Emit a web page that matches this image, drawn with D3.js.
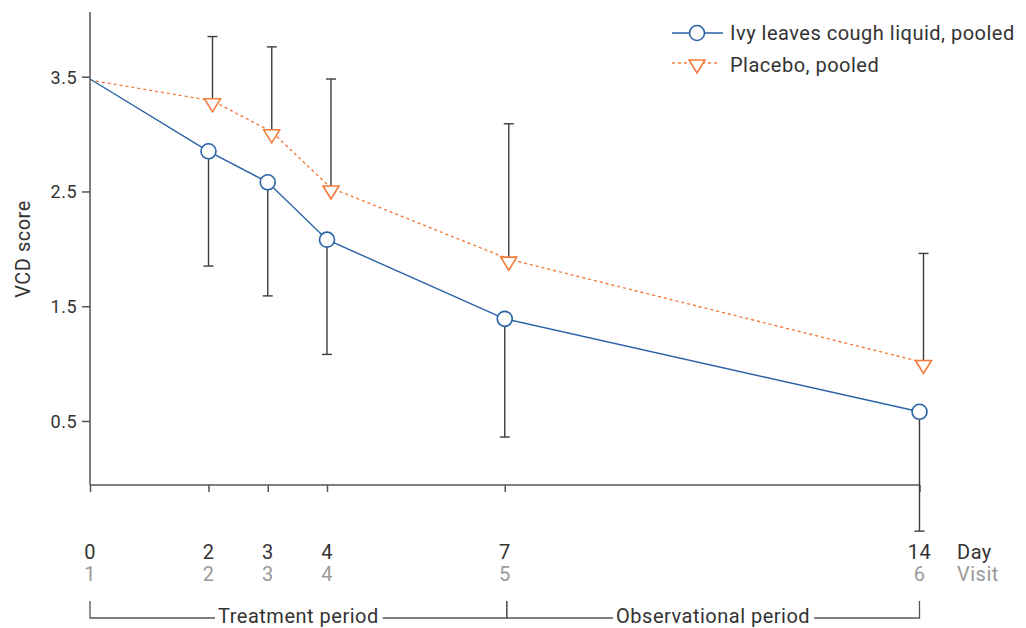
<!DOCTYPE html>
<html>
<head>
<meta charset="utf-8">
<script src="https://cdn.jsdelivr.net/npm/d3@7"></script>
<style>
  body { margin: 0; background: #fff; }
  svg text { font-family: Roboto, "DejaVu Sans", sans-serif; letter-spacing: 0.5px; }
</style>
</head>
<body>
<div id="viz"></div>
<script>
// data
var days = [0, 2, 3, 4, 7, 14];
var visits = [1, 2, 3, 4, 5, 6];
var ivyMean = [3.48, 2.85, 2.58, 2.08, 1.39, 0.58];
var ivyLower = [null, 1.85, 1.59, 1.08, 0.36, -0.46];
var placeboMean = [3.47, 3.29, 3.02, 2.53, 1.91, 1.01];
var placeboUpper = [null, 3.85, 3.76, 3.48, 3.09, 1.96];
var yTicks = [0.5, 1.5, 2.5, 3.5];
var seriesNames = ['Ivy leaves cough liquid, pooled', 'Placebo, pooled'];

var W = 1026, H = 628;
var blue = '#2a62a8', orange = '#f37b3b', axisCol = '#555', textCol = '#333', barCol = '#3c3c3c';
var dodge = 4;

var svg = d3.select('#viz').append('svg')
    .attr('width', W)
    .attr('height', H);

var x = d3.scaleLinear().domain([0, 14]).range([90, 919.5]);
var y = d3.scaleLinear().domain([-0.058, 4.064]).range([485, 12]);

var ivy = days.map(function(d, i) { return {day: d, v: ivyMean[i], lo: ivyLower[i]}; });
var pla = days.map(function(d, i) { return {day: d, v: placeboMean[i], hi: placeboUpper[i]}; });

// y axis
var yAxis = svg.append('g')
    .attr('transform', 'translate(' + x(0) + ',0)')
    .call(d3.axisLeft(y).tickValues(yTicks).tickSize(8).tickFormat(d3.format('.1f')));
yAxis.select('.domain').attr('d', 'M0,' + y.range()[1] + 'V' + y.range()[0]);
yAxis.selectAll('path, line').style('stroke', axisCol).style('stroke-width', 1.5);
yAxis.selectAll('text').style('fill', textCol).style('font-size', '18px').attr('x', -13).attr('dy', '0.36em');

// x axis
var xAxis = svg.append('g')
    .attr('transform', 'translate(0,' + y.range()[0] + ')')
    .call(d3.axisBottom(x).tickValues(days).tickSize(7).tickFormat(''));
xAxis.select('.domain').attr('d', 'M' + x(0) + ',0H' + x(14));
xAxis.selectAll('path, line').style('stroke', axisCol).style('stroke-width', 1.5);

// day / visit labels
svg.selectAll('.dayLab').data(days).enter().append('text')
    .attr('x', function(d) { return x(d); })
    .attr('y', 559)
    .attr('text-anchor', 'middle')
    .style('font-size', '20px')
    .style('fill', textCol)
    .text(function(d) { return d; });
svg.selectAll('.visitLab').data(days).enter().append('text')
    .attr('x', function(d) { return x(d); })
    .attr('y', 581)
    .attr('text-anchor', 'middle')
    .style('font-size', '20px')
    .style('fill', '#9a9a9a')
    .text(function(d, i) { return visits[i]; });
svg.append('text').attr('x', 957).attr('y', 559).style('font-size', '20px').style('fill', textCol).text('Day');
svg.append('text').attr('x', 957).attr('y', 581).style('font-size', '20px').style('fill', '#9a9a9a').text('Visit');

// axis title
svg.append('text')
    .attr('transform', 'translate(30,249) rotate(-90)')
    .attr('text-anchor', 'middle')
    .style('font-size', '20px')
    .style('fill', textCol)
    .text('VCD score');

// period brackets
var periods = [
  {label: 'Treatment period', from: 0, to: 7},
  {label: 'Observational period', from: 7, to: 14}
];
var by = 618;
periods.forEach(function(p) {
  var x0 = x(p.from) + (p.from > 0 ? 2 : 0), x1 = x(p.to) + (p.to == 7 ? 2 : 0);
  var mid = (x0 + x1) / 2;
  var t = svg.append('text')
      .attr('x', mid)
      .attr('y', by + 5)
      .attr('text-anchor', 'middle')
      .style('font-size', '20px')
      .style('fill', textCol)
      .text(p.label);
  var bb = t.node().getBBox();
  svg.append('path')
      .attr('d', 'M' + x0 + ',' + (by - 17) + 'V' + by + 'H' + (bb.x - 3))
      .attr('fill', 'none').style('stroke', axisCol).style('stroke-width', 1.3);
  svg.append('path')
      .attr('d', 'M' + (bb.x + bb.width + 4) + ',' + by + 'H' + x1 + 'V' + (by - 17))
      .attr('fill', 'none').style('stroke', axisCol).style('stroke-width', 1.3);
});

// error bars
var capW = 5;
function bar(g, x0, y0, y1) {
  g.append('line').attr('x1', x0).attr('x2', x0).attr('y1', y0).attr('y2', y1)
      .style('stroke', barCol).style('stroke-width', 1.4);
  g.append('line').attr('x1', x0 - capW).attr('x2', x0 + capW).attr('y1', y1).attr('y2', y1)
      .style('stroke', barCol).style('stroke-width', 1.4);
}
var bars = svg.append('g');
ivy.forEach(function(d) { if (d.lo != null) bar(bars, x(d.day), y(d.v), y(d.lo)); });
pla.forEach(function(d) { if (d.hi != null) bar(bars, x(d.day) + dodge, y(d.v), y(d.hi)); });

// lines
var ivyLine = d3.line().x(function(d) { return x(d.day); }).y(function(d) { return y(d.v); });
var plaLine = d3.line().x(function(d, i) { return x(d.day) + (i > 0 ? dodge : 0); }).y(function(d) { return y(d.v); });

svg.append('path').datum(pla).attr('d', plaLine)
    .attr('fill', 'none').style('stroke', orange).style('stroke-width', 1.4).style('stroke-dasharray', '3,3');
svg.append('path').datum(ivy).attr('d', ivyLine)
    .attr('fill', 'none').style('stroke', blue).style('stroke-width', 1.4);

// markers
var tri = 'M-8,-2L8,-2L0,11Z';
svg.selectAll('.tri').data(pla.slice(1)).enter().append('path')
    .attr('d', tri)
    .attr('transform', function(d) { return 'translate(' + (x(d.day) + dodge) + ',' + y(d.v) + ')'; })
    .attr('fill', 'white').style('stroke', orange).style('stroke-width', 1.6);
svg.selectAll('.circ').data(ivy.slice(1)).enter().append('circle')
    .attr('cx', function(d) { return x(d.day); })
    .attr('cy', function(d) { return y(d.v); })
    .attr('r', 7.5)
    .attr('fill', 'white').style('stroke', blue).style('stroke-width', 1.6);

// legend
var lg = svg.append('g');
lg.append('line').attr('x1', 672).attr('x2', 723).attr('y1', 33).attr('y2', 33).style('stroke', blue).style('stroke-width', 1.4);
lg.append('circle').attr('cx', 697).attr('cy', 33).attr('r', 7.5).attr('fill', 'white').style('stroke', blue).style('stroke-width', 1.6);
lg.append('line').attr('x1', 672).attr('x2', 720).attr('y1', 63).attr('y2', 63).style('stroke', orange).style('stroke-width', 1.4).style('stroke-dasharray', '3,3');
lg.append('path').attr('d', tri).attr('transform', 'translate(697,62)').attr('fill', 'white').style('stroke', orange).style('stroke-width', 1.6);
lg.selectAll('text').data(seriesNames).enter().append('text')
    .attr('x', 730)
    .attr('y', function(d, i) { return 40 + i * 32; })
    .style('font-size', '20px')
    .style('fill', textCol)
    .text(function(d) { return d; });
</script>
</body>
</html>
